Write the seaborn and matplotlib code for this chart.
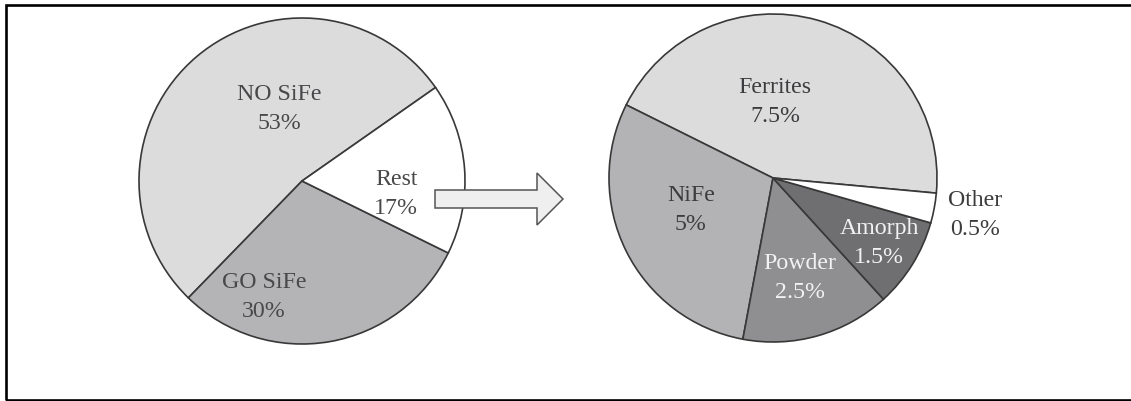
import matplotlib
matplotlib.use("Agg")
import matplotlib.pyplot as plt
from matplotlib.patches import FancyArrow, Rectangle
import seaborn as sns

# Soft magnetic materials: overall split and breakdown of the remainder
main_labels = ["NO SiFe", "GO SiFe", "Rest"]
main_values = [53, 30, 17]
rest_labels = ["Ferrites", "NiFe", "Powder", "Amorph", "Other"]
rest_values = [7.5, 5, 2.5, 1.5, 0.5]

sns.set_theme(style="white")
plt.rcParams["font.family"] = ["Liberation Serif", "DejaVu Serif"]

W, H = 1131, 401
fig = plt.figure(figsize=(W / 100, H / 100), dpi=100)
ax = fig.add_axes([0, 0, 1, 1])


def py(y):
    """Convert a top-down pixel row to a data y value."""
    return H - y


main_colors = ["#dcdcdd", "#b4b4b6", "#ffffff"]
rest_colors = ["#dcdcdd", "#b3b3b5", "#8f8f91", "#6f6f71", "#ffffff"]
wedge_style = dict(edgecolor="#383838", linewidth=1.2)

ax.pie(main_values, colors=main_colors, startangle=35, counterclock=True,
       center=(302, py(181)), radius=163, wedgeprops=wedge_style, frame=True)
ax.pie(rest_values, colors=rest_colors, startangle=-5.3, counterclock=True,
       center=(773, py(178)), radius=164, wedgeprops=wedge_style, frame=True)

# label anchor points (pixel x, pixel y) and text colours
main_pos = [(279, 109), (264, 297), (396, 194)]
main_txt = ["#48484a", "#48484a", "#48484a"]
rest_pos = [(775, 102), (691, 210), (800, 278), (879, 243), (975, 215)]
rest_txt = ["#3c3c3e", "#3c3c3e", "#f2f2f2", "#f2f2f2", "#3c3c3e"]

for lab, val, (x, y), c in zip(main_labels, main_values, main_pos, main_txt):
    ax.text(x, py(y), f"{lab}\n{val:g}%", ha="center", va="center",
            fontsize=17.2, color=c, linespacing=1.45, zorder=6)
for lab, val, (x, y), c in zip(rest_labels, rest_values, rest_pos, rest_txt):
    ax.text(x, py(y), f"{lab}\n{val:g}%", ha="center", va="center",
            fontsize=17.2, color=c, linespacing=1.45, zorder=6)

# block arrow pointing from "Rest" to its breakdown
ax.add_patch(FancyArrow(435, py(199), 128, 0, width=18, head_width=52,
                        head_length=26, length_includes_head=True,
                        facecolor="#efefef", edgecolor="#555555",
                        linewidth=1.1, zorder=5))

# surrounding frame
ax.add_patch(Rectangle((6, py(399.5)), 1200, 395, fill=False,
                       edgecolor="black", linewidth=1.9, zorder=7))

ax.set_xlim(0, W)
ax.set_ylim(0, H)
ax.set_aspect("equal")
ax.axis("off")

fig.savefig("out.png", dpi=100)
